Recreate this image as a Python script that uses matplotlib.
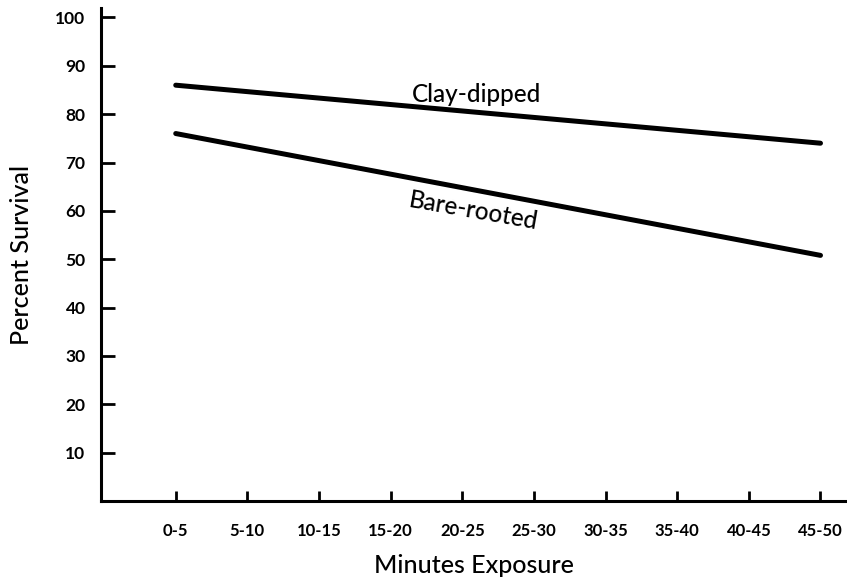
import matplotlib
matplotlib.use("Agg")
import matplotlib.pyplot as plt

categories = ["0-5", "5-10", "10-15", "15-20", "20-25", "25-30",
              "30-35", "35-40", "40-45", "45-50"]
y_ticks = [10, 20, 30, 40, 50, 60, 70, 80, 90, 100]
clay_dipped = [86, 74]      # at first and last category
bare_rooted = [76, 50.8]    # at first and last category

plt.rcParams['font.family'] = ['Lato', 'DejaVu Sans']

fig = plt.figure(figsize=(8.47, 5.81), dpi=100)
ax = fig.add_axes([0.119, 0.1377, 0.881, 0.848])

xs = [0, len(categories) - 1]
ax.plot(xs, clay_dipped, color="black", lw=3.6, solid_capstyle="round")
ax.plot(xs, bare_rooted, color="black", lw=3.6, solid_capstyle="round")

ax.text(4.2, 84.0, "Clay-dipped", fontsize=17.5, ha="center", va="center",
        fontweight="medium")
ax.text(4.15, 60.0, "Bare-rooted", fontsize=17.5, ha="center", va="center",
        rotation=-10, fontweight="medium")

ax.set_xlim(-1.046, 9.37)
ax.set_ylim(0, 101.9)
ax.set_xticks(range(len(categories)))
ax.set_xticklabels(categories)
ax.set_yticks(y_ticks)

for s in ["top", "right"]:
    ax.spines[s].set_visible(False)
for s in ["left", "bottom"]:
    ax.spines[s].set_linewidth(2.2)

ax.tick_params(axis="y", direction="in", length=10, width=2, pad=11,
               labelsize=12.5)
ax.tick_params(axis="x", direction="in", length=7, width=2, pad=16,
               labelsize=12)
for lab in ax.get_xticklabels() + ax.get_yticklabels():
    lab.set_fontweight("bold")

ax.set_ylabel("Percent Survival", fontsize=18, labelpad=16,
              fontweight="medium")
ax.set_xlabel("Minutes Exposure", fontsize=18, labelpad=11,
              fontweight="medium")

fig.savefig("out.png", dpi=100)
